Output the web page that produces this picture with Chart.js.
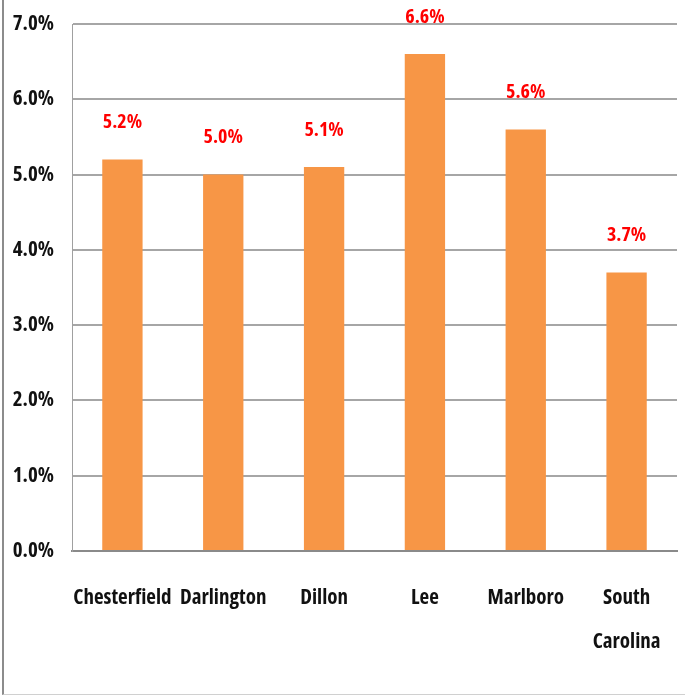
<!DOCTYPE html>
<html>
<head>
<meta charset="utf-8">
<script src="https://cdn.jsdelivr.net/npm/chart.js@4.4.1/dist/chart.umd.min.js"></script>
<style>
  html, body { margin: 0; padding: 0; background: #fff; }
  #wrap { position: relative; width: 685px; height: 696px; }
  #frame { position: absolute; left: 2px; top: 0; width: 683px; height: 694px;
           border-left: 2px solid #8c8c8c; border-bottom: 1px solid #d0d0d0; box-sizing: content-box; pointer-events: none; }
  canvas { position: absolute; left: 0; top: 0; }
</style>
</head>
<body>
<div id="wrap">
  <canvas id="c" width="685" height="696"></canvas>
  <div id="frame"></div>
</div>
<script>
const categories = [["Chesterfield"], ["Darlington"], ["Dillon"], ["Lee"], ["Marlboro"], ["South", "Carolina"]];
const values = [5.2, 5.0, 5.1, 6.6, 5.6, 3.7];
const valueLabels = ["5.2%", "5.0%", "5.1%", "6.6%", "5.6%", "3.7%"];

const FONT = "'Open Sans', 'Roboto Condensed', sans-serif";
const WEIGHT = "bold condensed";

const labelPlugin = {
  id: 'valueLabels',
  afterDatasetsDraw(chart) {
    const ctx = chart.ctx;
    const meta = chart.getDatasetMeta(0);
    ctx.save();
    ctx.fillStyle = '#ff0000';
    ctx.font = WEIGHT + ' 20px ' + FONT;
    ctx.textAlign = 'center';
    ctx.textBaseline = 'middle';
    meta.data.forEach((bar, i) => {
      ctx.fillText(valueLabels[i], bar.x, bar.y - 37);
    });
    ctx.restore();
  }
};

new Chart(document.getElementById('c'), {
  type: 'bar',
  data: {
    labels: categories,
    datasets: [{
      data: values,
      backgroundColor: '#f79646',
      borderWidth: 0,
      barPercentage: 0.4,
      categoryPercentage: 1.0
    }]
  },
  options: {
    responsive: false,
    animation: false,
    layout: { padding: { left: 10, right: 8, top: 24, bottom: 0 } },
    plugins: { legend: { display: false }, tooltip: { enabled: false } },
    scales: {
      x: {
        afterFit(scale) { scale.height = 145; scale.paddingLeft = 0; scale.paddingRight = 0; },
        grid: { display: false },
        border: { display: true, color: '#8a8a8a', width: 2 },
        ticks: { color: '#111', font: { family: FONT, size: 21, weight: WEIGHT, lineHeight: 2.1 }, padding: 17, maxRotation: 0, autoSkip: false }
      },
      y: {
        min: 0, max: 7,
        afterFit(scale) { scale.width = 62; scale.paddingTop = 0; scale.paddingBottom = 0; },
        grid: { color: '#a6a6a6', lineWidth: 2, drawTicks: false },
        border: { display: true, color: '#a0a0a0', width: 1 },
        ticks: {
          stepSize: 1, padding: 18, color: '#111',
          font: { family: FONT, size: 21, weight: WEIGHT },
          callback: v => v.toFixed(1) + '%'
        }
      }
    }
  },
  plugins: [labelPlugin]
});
</script>
</body>
</html>
